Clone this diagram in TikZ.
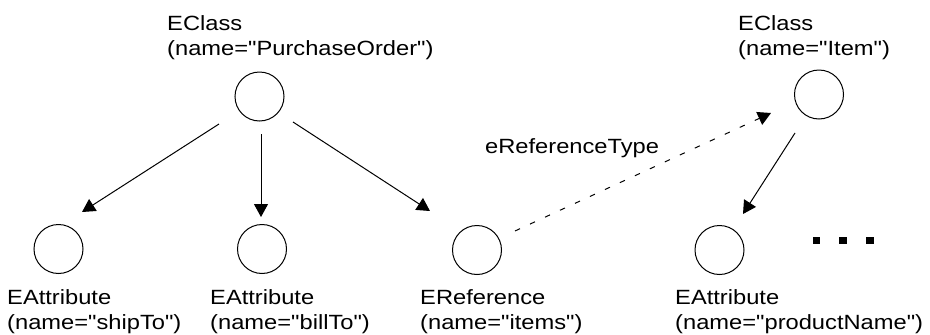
\documentclass[tikz,border=0pt]{standalone}
\usepackage{fontspec}
\setmainfont[FakeStretch=1.15,Ligatures=TeXOff]{Liberation Sans}
\usetikzlibrary{arrows.meta,calc}
\begin{document}
\begin{tikzpicture}[x=1pt,y=-1pt,
  obj/.style={circle,draw,line width=1pt,minimum size=49pt,inner sep=0pt},
  lbl/.style={align=left,anchor=base west,inner sep=0pt,font=\fontsize{20.6pt}{25pt}\selectfont},
  arr/.style={line width=1pt,-{Triangle[length=13pt,width=14pt]}},
  dsh/.style={arr,dash pattern=on 5.5pt off 11pt},
  dot/.style={fill=black}]
\useasboundingbox (0,0) rectangle (930,335);
% objects
\node[obj] (po) at (259.5,96.5) {};
\node[obj] (st) at (58.5,249) {};
\node[obj] (bt) at (262,249) {};
\node[obj] (it) at (477,250) {};
\node[obj] (item) at (819,94.5) {};
\node[obj] (pn) at (719.5,250) {};
% labels (anchor = baseline of the last line)
\node[lbl] (lpo) at (167,55) {EClass\\(name="PurchaseOrder")};
\node[lbl] (litem) at (738,55) {EClass\\(name="Item")};
\node[lbl] (lst) at (7,329) {EAttribute\\(name="shipTo")};
\node[lbl] (lbt) at (210,329) {EAttribute\\(name="billTo")};
\node[lbl] (lit) at (420,329) {EReference\\(name="items")};
\node[lbl] (lpn) at (675,329) {EAttribute\\(name="productName")};
\node[lbl] (lref) at (485,153) {eReferenceType};
% connectors
\draw[arr] ($(po)+(-40.5,27.5)$) -- ($(st)+(23.5,-37)$);
\draw[arr] ($(po)+(1.5,37.5)$) -- ($(bt)+(-1,-32)$);
\draw[arr] ($(po)+(33.5,25.5)$) -- ($(it)+(-47,-39)$);
\draw[arr] ($(item)+(-24,38.5)$) -- ($(pn)+(23.5,-36)$);
\draw[dsh] ($(it)+(38,-19)$) -- ($(item)+(-48,18.5)$);
% ellipsis
\fill[dot] (812.8,236.5) rectangle (820.3,244);
\fill[dot] (839.3,236.5) rectangle (846.8,244);
\fill[dot] (866.3,236.5) rectangle (873.8,244);
\end{tikzpicture}
\end{document}
